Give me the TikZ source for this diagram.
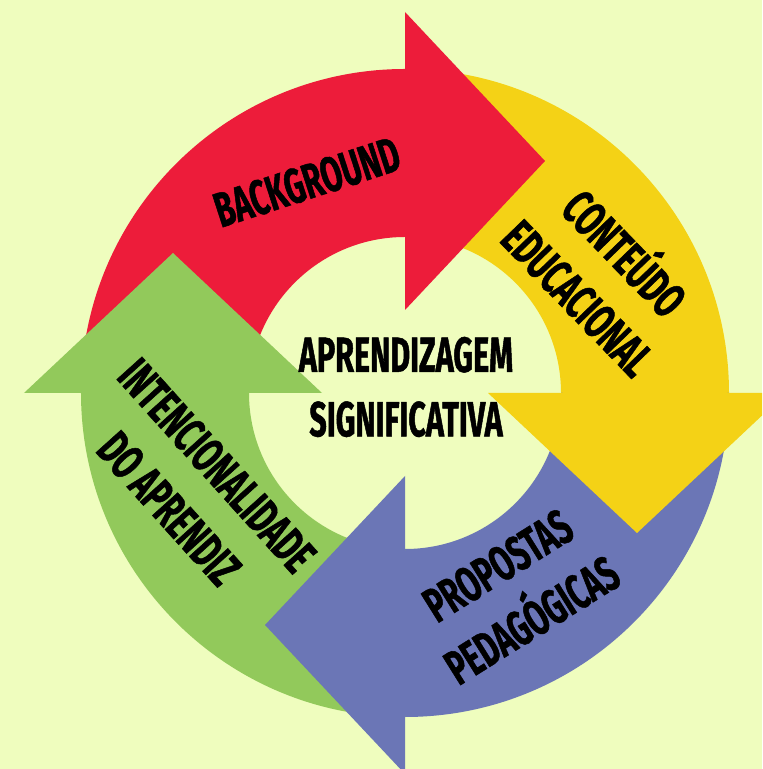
\documentclass[tikz,border=0pt]{standalone}
\usepackage{fontspec}
\usepackage{xcolor}
\usepackage{tikz}

\newfontfamily\cyclefont{Fira Sans}[FakeStretch=0.62, FakeBold=1]

\definecolor{bgc}{HTML}{EFFDBE}
\definecolor{redc}{HTML}{ED1C3A}
\definecolor{yellowc}{HTML}{F4D216}
\definecolor{bluec}{HTML}{6B76B6}
\definecolor{greenc}{HTML}{92C95B}

\begin{document}
\begin{tikzpicture}[x=0.03cm, y=0.03cm,
                    cycletext/.style={font=\cyclefont\bfseries\fontsize{42}{55}\selectfont, align=center, inner sep=0pt}]
                        \clip (-405,-376) rectangle (357,393);
                        \fill[bgc] (-405,-376) rectangle (357,393);

                        % ring pieces
                        \fill[redc] (180:324) arc[start angle=180, end angle=90, radius=324] -- (90:156) arc[start angle=90, end angle=180, radius=156] -- cycle;
                        \fill[yellowc] (90:324) arc[start angle=90, end angle=0, radius=324] -- (0:156) arc[start angle=0, end angle=90, radius=156] -- cycle;
                        \fill[bluec] (0:324) arc[start angle=0, end angle=-90, radius=324] -- (-90:156) arc[start angle=-90, end angle=0, radius=156] -- cycle;
                        \fill[greenc] (-90:324) arc[start angle=-90, end angle=-180, radius=324] -- (180:156) arc[start angle=180, end angle=270, radius=156] -- cycle;

                        % heads (small strip hides the seam)
                        \fill[redc] (0,83) -- (0,381) -- (140,232) -- cycle (-3,158) rectangle (0,322);
                        \fill[yellowc] (83,0) -- (381,0) -- (232,-140) -- cycle (158,0) rectangle (322,3);
                        \fill[bluec] (0,-83) -- (0,-381) -- (-140,-232) -- cycle (0,-158) rectangle (3,-322);
                        \fill[greenc] (-83,0) -- (-381,0) -- (-232,140) -- cycle (-158,0) rectangle (-322,-3);

                        \node (centre) [cycletext] at (1,6) {APRENDIZAGEM\\SIGNIFICATIVA};
                        \node (background) [cycletext, rotate=18] at (-98,211) {BACKGROUND};
                        \node (conteudo) [cycletext, rotate=-46] at (200,121) {CONTEÚDO\\EDUCACIONAL};
                        \node (propostas) [cycletext, rotate=32] at (110,-200) {PROPOSTAS\\PEDAGÓGICAS};
                        \node (intencao) [cycletext, rotate=-48] at (-212,-94) {INTENCIONALIDADE\\DO APRENDIZ};
                    \end{tikzpicture}
\end{document}
